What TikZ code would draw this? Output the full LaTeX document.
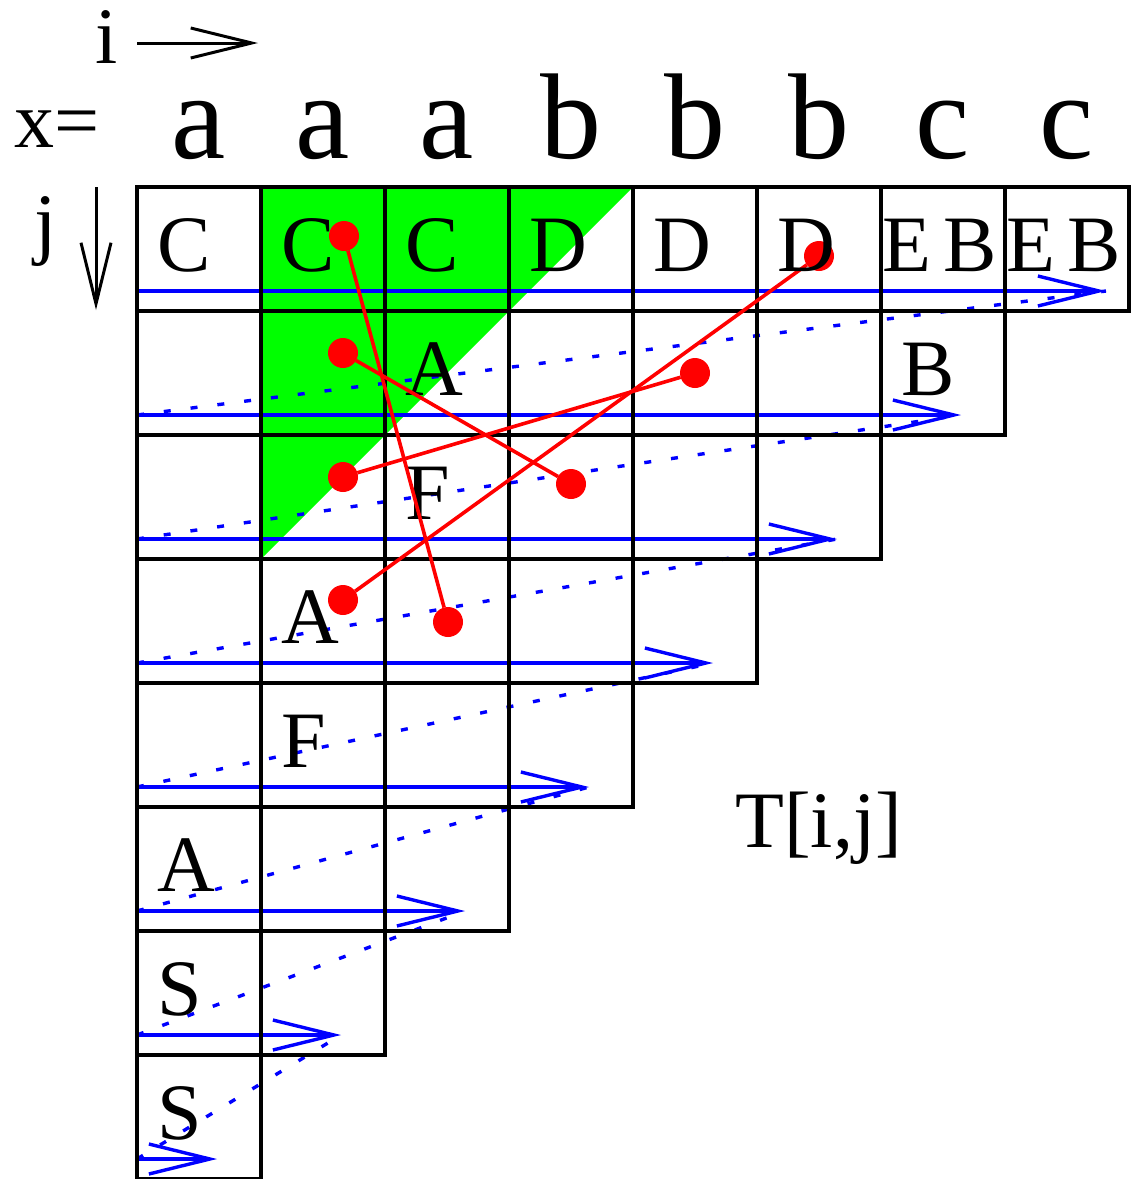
\documentclass[tikz,border=0pt]{standalone}
\usepackage{fontspec}
\setmainfont{Liberation Serif}
\usetikzlibrary{arrows.meta}
\definecolor{fillgreen}{RGB}{0,255,0}
\definecolor{pureblue}{RGB}{0,0,255}
\definecolor{purered}{RGB}{255,0,0}
\begin{document}
\begin{tikzpicture}[x=0.5pt,y=-0.5pt,
  cell/.style={draw=black,line width=1.8pt,minimum width=62pt,minimum height=62pt,inner sep=0pt,outer sep=0pt},
  cl/.style={inner sep=0pt,anchor=base west,font=\fontsize{40}{40}\selectfont},
  hd/.style={inner sep=0pt,anchor=base,font=\fontsize{61}{61}\selectfont},
  barb/.style={-{Straight Barb[length=30.5pt,width=15pt]}},
  bluearrow/.style={draw=pureblue,line width=1.7pt,barb},
  bluedots/.style={draw=pureblue,line width=1.7pt,dash pattern=on 3.5pt off 10pt},
  blkarrow/.style={draw=black,line width=1.5pt,barb},
  redline/.style={draw=purered,line width=1.8pt},
  reddot/.style={circle,fill=purered,inner sep=0pt,minimum size=15pt,outer sep=0pt},
]
\useasboundingbox (0,0) rectangle (1137,1179);

% green triangle
\fill[fillgreen] (261,187) -- (633,187) -- (261,559) -- cycle;

% row start / arrow tip coordinates
\foreach \r in {0,...,7}{
  \coordinate (s\r) at (137,{291+124*\r});
}
\coordinate (t0) at (1106,291);
\foreach \r in {1,...,7}{
  \coordinate (t\r) at ({217+124*(7-\r)},{291+124*\r});
}

% blue arrows and dotted returns
\foreach \r in {0,...,7}{
  \draw[bluearrow] (s\r) -- (t\r);
}
\foreach \r/\p in {1/0,2/1,3/2,4/3,5/4,6/5,7/6}{
  \draw[bluedots] (s\r) -- (t\p);
}

% cells
\foreach \r in {0,...,7}{
  \pgfmathtruncatemacro\cmax{7-\r}
  \foreach \c in {0,...,\cmax}{
    \node[cell] (c\r\c) at ({199+124*\c},{249+124*\r}) {};
  }
}

% header
\node[inner sep=0pt,anchor=base west,font=\fontsize{40}{40}\selectfont] (ilab) at (95,63) {i};
\coordinate (ia0) at (137,43);
\coordinate (ia1) at (258,43);
\draw[blkarrow] (ia0) -- (ia1);
\node[inner sep=0pt,anchor=base west,font=\fontsize{40}{40}\selectfont] (xlab) at (14,147) {x=};
\node[inner sep=0pt,anchor=base west,font=\fontsize{40}{40}\selectfont] (jlab) at (34,249) {j};
\coordinate (ja0) at (96,187);
\coordinate (ja1) at (96,310);
\draw[blkarrow] (ja0) -- (ja1);
\node[hd] (h0) at (199,158) {a};
\node[hd] (h1) at (323,158) {a};
\node[hd] (h2) at (447,158) {a};
\node[hd] (h3) at (571,158) {b};
\node[hd] (h4) at (695,158) {b};
\node[hd] (h5) at (819,158) {b};
\node[hd] (h6) at (943,158) {c};
\node[hd] (h7) at (1067,158) {c};

% cell texts
\node[cl] (L00) at (157,271) {C};
\node[cl] (L01) at (281,271) {C};
\node[cl] (L02) at (405,271) {C};
\node[cl] (L03) at (529,271) {D};
\node[cl] (L04) at (653,271) {D};
\node[cl] (L06) at (882,271) {E\kern6pt B};
\node[cl] (L07) at (1006,271) {E\kern6pt B};
\node[cl] (L12) at (405,395) {A};
\node[cl] (L16) at (901,395) {B};
\node[cl] (L22) at (405,519) {F};
\node[cl] (L31) at (281,643) {A};
\node[cl] (L41) at (281,767) {F};
\node[cl] (L50) at (157,891) {A};
\node[cl] (L60) at (157,1015) {S};
\node[cl] (L70) at (157,1139) {S};
\node[cl] (T) at (735,847) {T[i,j]};

% red dots
\node[reddot] (d5) at (819,256) {};
\node[reddot] (d1) at (344,236) {};
\node[reddot] (d2) at (343,353) {};
\node[reddot] (d3) at (343,477) {};
\node[reddot] (d4) at (571,484) {};
\node[reddot] (d6) at (695,373) {};
\node[reddot] (d7) at (343,600) {};
\node[reddot] (d8) at (448,622) {};

% red connectors
\draw[redline] (d1) -- (d8);
\draw[redline] (d2) -- (d4);
\draw[redline] (d3) -- (d6);
\draw[redline] (d7) -- (d5);

\node[cl] (L05) at (777,271) {D};
\end{tikzpicture}
\end{document}
